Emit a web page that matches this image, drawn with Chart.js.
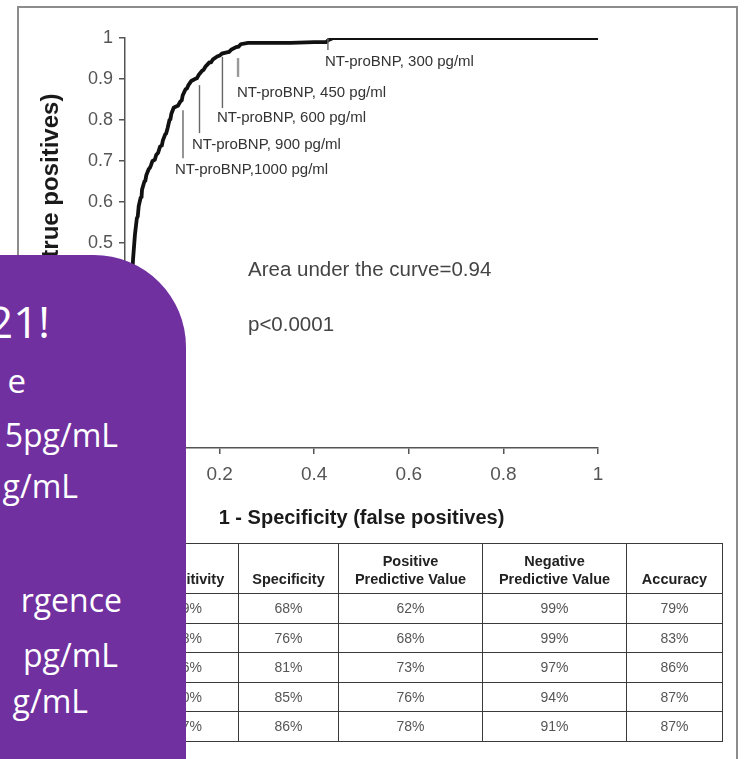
<!DOCTYPE html>
<html>
<head>
<meta charset="utf-8">
<script src="https://cdn.jsdelivr.net/npm/chart.js@4.4.1/dist/chart.umd.min.js"></script>
<style>
  html, body { margin:0; padding:0; background:#fff; }
  #wrap { position:relative; width:744px; height:759px; overflow:hidden; background:#fff; }
  #frame { position:absolute; left:17px; top:6px; width:721px; height:800px; border:2px solid #8c8c8c; box-sizing:border-box; }
  #c { position:absolute; left:0; top:0; }
  #tbl { position:absolute; left:137px; top:543px; border-collapse:collapse; font-family:"Liberation Sans", Arial, sans-serif; }
  #tbl td, #tbl th { border:1.6px solid #3a3a3a; text-align:center; padding:0; }
  #tbl th { font-weight:bold; font-size:14.5px; color:#222; vertical-align:bottom; padding-bottom:5px; line-height:18px; height:44px; }
  #tbl td { font-size:14px; color:#555; height:28.5px; }
  #box { position:absolute; left:0; top:255px; width:186px; height:520px; background:#7030A0; border-top-right-radius:92px; overflow:hidden; }
  .ln { position:absolute; color:#fff; font-family:"Open Sans", sans-serif; white-space:pre; line-height:1; }
</style>
</head>
<body>
<div id="wrap">
  <div id="frame"></div>
  <canvas id="c" width="744" height="759"></canvas>
  <table id="tbl"></table>
  <div id="box"></div>
</div>
<script>
// ROC curve (1 - specificity, sensitivity)
const fpr = [0,0.004,0.006,0.008,0.011,0.014,0.017,0.021,0.025,0.027,0.029,0.033,0.035,0.036,0.041,0.043,0.045,0.05,0.053,0.055,0.058,0.063,0.066,0.070,0.074,0.078,0.08,0.085,0.087,0.09,0.094,0.096,0.098,0.103,0.108,0.112,0.117,0.12,0.122,0.128,0.131,0.134,0.14,0.148,0.152,0.156,0.163,0.166,0.17,0.178,0.182,0.186,0.195,0.2,0.205,0.215,0.22,0.225,0.235,0.24,0.245,0.26,0.3,0.35,0.4,0.425,0.43,0.44,1];
const tpr = [0,0.08,0.16,0.25,0.33,0.40,0.46,0.52,0.56,0.565,0.59,0.61,0.612,0.63,0.65,0.652,0.665,0.68,0.684,0.69,0.70,0.703,0.715,0.72,0.735,0.738,0.75,0.765,0.767,0.78,0.80,0.802,0.815,0.83,0.833,0.835,0.845,0.848,0.86,0.875,0.877,0.885,0.895,0.90,0.902,0.91,0.92,0.922,0.93,0.94,0.941,0.948,0.955,0.957,0.962,0.965,0.966,0.972,0.978,0.979,0.985,0.988,0.988,0.988,0.99,0.99,0.995,1,1];

// cut-off annotations
const cutoffLabels = ['NT-proBNP,1000 pg/ml','NT-proBNP, 900 pg/ml','NT-proBNP, 600 pg/ml','NT-proBNP, 450 pg/ml','NT-proBNP, 300 pg/ml'];
const cutoffFpr    = [0.1226, 0.1575, 0.206, 0.239, 0.429];
const cutoffTprTop = [0.824, 0.885, 0.954, 0.951, 1.0];
const cutoffTprEnd = [0.707, 0.768, 0.829, 0.905, 0.971];
const labelFpr     = [0.1057, 0.1416, 0.1945, 0.2368, 0.4228];
const labelTpr     = [0.678, 0.739, 0.805, 0.866, 0.941];

const xTicks = [0, 0.2, 0.4, 0.6, 0.8, 1];
const yTicks = [0, 0.1, 0.2, 0.3, 0.4, 0.5, 0.6, 0.7, 0.8, 0.9, 1];

const statTexts = ['Area under the curve=0.94', 'p<0.0001'];

// table
const tableHeaders = ['Sensitivity','Specificity','Positive<br>Predictive Value','Negative<br>Predictive Value','Accuracy'];
const sensitivity = ['99%','98%','96%','90%','87%'];
const specificity = ['68%','76%','81%','85%','86%'];
const ppv         = ['62%','68%','73%','76%','78%'];
const npv         = ['99%','99%','97%','94%','91%'];
const accuracy    = ['79%','83%','86%','87%','87%'];

// overlay text fragments
const boxLines = ['21!','e','5pg/mL','g/mL','rgence',' pg/mL','g/mL'];

// ---- build table
const colW = [100,99,143,143,95];
const tbl = document.getElementById('tbl');
let h = '<tr>' + tableHeaders.map((t,i)=>'<th style="width:'+colW[i]+'px">'+t+'</th>').join('') + '</tr>';
for (let r=0;r<sensitivity.length;r++){
  h += '<tr>' + [sensitivity[r],specificity[r],ppv[r],npv[r],accuracy[r]].map(v=>'<td>'+v+'</td>').join('') + '</tr>';
}
tbl.innerHTML = h;

// ---- overlay box text
const box = document.getElementById('box');
const lineSpec = [ // [rightEdge, baseline(page y), fontSize]
  [50,338,44],[26,393,33],[118,447,32],[78,498,32],[122,612,32],[118,667,32],[88,713,32]
];
boxLines.forEach((t,i)=>{
  const d = document.createElement('div');
  d.className='ln';
  d.textContent = t;
  const [r,b,fs] = lineSpec[i];
  d.style.fontSize = fs+'px';
  d.style.right = (186 - r)+'px';
  d.style.top = (b - 255 - fs*0.888)+'px';
  box.appendChild(d);
});

const FONT = '"Liberation Sans", Arial, sans-serif';

const annot = {
  id:'annot',
  afterDatasetsDraw(chart){
    const {ctx, scales:{x,y}} = chart;
    ctx.save();
    ctx.fillStyle = '#333';
    ctx.font = '15px ' + FONT;
    ctx.textBaseline = 'middle';
    ctx.textAlign = 'left';
    for (let i=0;i<cutoffLabels.length;i++){
      const px = x.getPixelForValue(cutoffFpr[i]);
      ctx.beginPath();
      ctx.moveTo(px, y.getPixelForValue(cutoffTprTop[i]));
      ctx.lineTo(px, y.getPixelForValue(cutoffTprEnd[i]));
      ctx.lineWidth = i===3 ? 2.4 : 1.4;
      ctx.strokeStyle = i===3 ? '#999' : '#666';
      ctx.stroke();
      ctx.fillText(cutoffLabels[i], x.getPixelForValue(labelFpr[i]), y.getPixelForValue(labelTpr[i]));
    }
    ctx.font = '20.5px ' + FONT;
    ctx.fillStyle = '#444';
    ctx.fillText(statTexts[0], x.getPixelForValue(0.26), y.getPixelForValue(0.434));
    ctx.fillText(statTexts[1], x.getPixelForValue(0.26), y.getPixelForValue(0.30));
    ctx.restore();
  }
};

const fmt = v => { const r = Math.round(v*10)/10; return String(r); };

new Chart(document.getElementById('c'), {
  type:'scatter',
  data:{ datasets:[{
    data: fpr.map((v,i)=>({x:v, y:tpr[i]})),
    showLine:true, borderColor:'#111', borderWidth:3.8, pointRadius:0, tension:0, fill:false
  }]},
  options:{
    responsive:false, animation:false, devicePixelRatio:1,
    layout:{ padding:{ left:0, right:146, top:38, bottom:211 } },
    plugins:{ legend:{display:false}, tooltip:{enabled:false} },
    scales:{
      x:{ type:'linear', min:0, max:1,
        afterBuildTicks: s => { s.ticks = xTicks.map(v=>({value:v})); },
        afterFit: s => { s.height = 100; },
        ticks:{ callback: fmt, font:{size:19, family:FONT}, color:'#555', padding:9, maxRotation:0 },
        grid:{ drawOnChartArea:false, drawTicks:true, tickLength:6, color:'#555', lineWidth:1.5 },
        border:{ color:'#555', width:1.5 },
        title:{ display:true, text:'1 - Specificity (false positives)', font:{size:20, weight:'bold', family:FONT}, color:'#1a1a1a', padding:{top:0, bottom:18} }
      },
      y:{ type:'linear', min:0, max:1,
        afterBuildTicks: s => { s.ticks = yTicks.map(v=>({value:v})); },
        afterFit: s => { s.width = 125; },
        ticks:{ callback: fmt, font:{size:18, family:FONT}, color:'#555', padding:6 },
        grid:{ drawOnChartArea:false, drawTicks:true, tickLength:6, color:'#555', lineWidth:1.5 },
        border:{ color:'#555', width:1.5 },
        title:{ display:true, text:'Sensitivity (true positives)', font:{size:24, weight:'bold', family:FONT}, color:'#1a1a1a', padding:{top:37, bottom:0} }
      }
    }
  },
  plugins:[annot]
});
</script>
</body>
</html>
